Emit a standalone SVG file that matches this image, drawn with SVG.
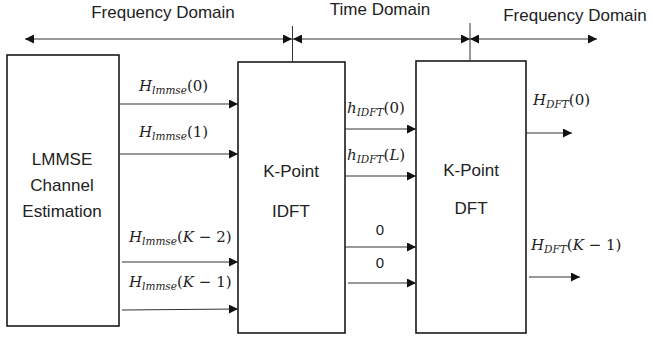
<svg xmlns="http://www.w3.org/2000/svg" width="653" height="340" viewBox="0 0 653 340">
<style>
.box{fill:#fff;stroke:#1a1a1a;stroke-width:1.6}
.t{font-family:"Liberation Sans",Arial,sans-serif;font-size:17px;fill:#222;text-anchor:middle}
.z{font-family:"Liberation Sans",Arial,sans-serif;font-size:15px;fill:#222;text-anchor:middle}
.m{font-family:"DejaVu Serif","Liberation Serif",serif;font-size:15px;fill:#222}
.i{font-style:italic}
.sub{font-size:10.5px;font-style:italic}
.c{fill:none;stroke:#333;stroke-width:1.1}
.d{fill:none;stroke:#333;stroke-width:1}
</style>
<defs>
<marker id="ah" viewBox="0 0 10 10" refX="10" refY="5" markerWidth="9" markerHeight="9" markerUnits="userSpaceOnUse" orient="auto-start-reverse">
<path d="M0,0 L10,5 L0,10 z" fill="#111"/>
</marker>
</defs>

<g id="domain-labels">
<text class="t" x="163" y="18">Frequency Domain</text>
<text class="t" x="380" y="15">Time Domain</text>
<text class="t" x="575" y="21">Frequency Domain</text>
</g>

<g id="lmmse">
<rect class="box" x="7" y="55" width="112" height="271"/>
<text class="t" x="62" y="165">LMMSE</text>
<text class="t" x="62" y="191">Channel</text>
<text class="t" x="62" y="217">Estimation</text>
</g>

<g id="idft">
<rect class="box" x="238" y="62" width="107" height="271"/>
<text class="t" x="291" y="177">K-Point</text>
<text class="t" x="291" y="217">IDFT</text>
</g>

<g id="dft">
<rect class="box" x="416" y="61" width="110" height="272"/>
<text class="t" x="471" y="176">K-Point</text>
<text class="t" x="471" y="214">DFT</text>
</g>

<g id="connectors">
<line class="d" x1="25" y1="39" x2="292" y2="39" marker-start="url(#ah)" marker-end="url(#ah)"/>
<line class="d" x1="293" y1="39" x2="470" y2="39" marker-start="url(#ah)" marker-end="url(#ah)"/>
<line class="d" x1="470" y1="39" x2="597" y2="39" marker-start="url(#ah)" marker-end="url(#ah)"/>
<line class="d" x1="292.5" y1="26" x2="292.5" y2="62"/>
<line class="d" x1="470" y1="23" x2="470" y2="61"/>

<line class="c" x1="120" y1="104" x2="238" y2="104" marker-end="url(#ah)"/>
<line class="c" x1="119" y1="154" x2="238" y2="154" marker-end="url(#ah)"/>
<line class="c" x1="122" y1="262" x2="238" y2="262" marker-end="url(#ah)"/>
<line class="c" x1="122" y1="310" x2="238" y2="309" marker-end="url(#ah)"/>

<line class="c" x1="345" y1="129" x2="416" y2="129" marker-end="url(#ah)"/>
<line class="c" x1="345" y1="176" x2="416" y2="176" marker-end="url(#ah)"/>
<line class="c" x1="345" y1="247" x2="416" y2="247" marker-end="url(#ah)"/>
<line class="c" x1="348" y1="283" x2="416" y2="283" marker-end="url(#ah)"/>

<line class="c" x1="526" y1="133" x2="572" y2="133" marker-end="url(#ah)"/>
<line class="c" x1="529" y1="277" x2="580" y2="277" marker-end="url(#ah)"/>
</g>

<g id="labels">
<text class="m" x="139" y="91"><tspan class="i">H</tspan><tspan class="sub" dy="3">lmmse</tspan><tspan dy="-3">(0)</tspan></text>
<text class="m" x="139" y="137"><tspan class="i">H</tspan><tspan class="sub" dy="3">lmmse</tspan><tspan dy="-3">(1)</tspan></text>
<text class="m" x="129" y="242"><tspan class="i">H</tspan><tspan class="sub" dy="3">lmmse</tspan><tspan dy="-3">(</tspan><tspan class="i">K</tspan><tspan> − 2)</tspan></text>
<text class="m" x="129" y="287"><tspan class="i">H</tspan><tspan class="sub" dy="3">lmmse</tspan><tspan dy="-3">(</tspan><tspan class="i">K</tspan><tspan> − 1)</tspan></text>

<text class="m" x="347" y="113"><tspan class="i">h</tspan><tspan class="sub" dy="3">IDFT</tspan><tspan dy="-3">(0)</tspan></text>
<text class="m" x="347" y="160"><tspan class="i">h</tspan><tspan class="sub" dy="3">IDFT</tspan><tspan dy="-3">(</tspan><tspan class="i">L</tspan><tspan>)</tspan></text>
<text class="z" x="380" y="235">0</text>
<text class="z" x="380" y="268">0</text>

<text class="m" x="533" y="105"><tspan class="i">H</tspan><tspan class="sub" dy="3">DFT</tspan><tspan dy="-3">(0)</tspan></text>
<text class="m" x="531" y="250"><tspan class="i">H</tspan><tspan class="sub" dy="3">DFT</tspan><tspan dy="-3">(</tspan><tspan class="i">K</tspan><tspan> − 1)</tspan></text>
</g>
</svg>
